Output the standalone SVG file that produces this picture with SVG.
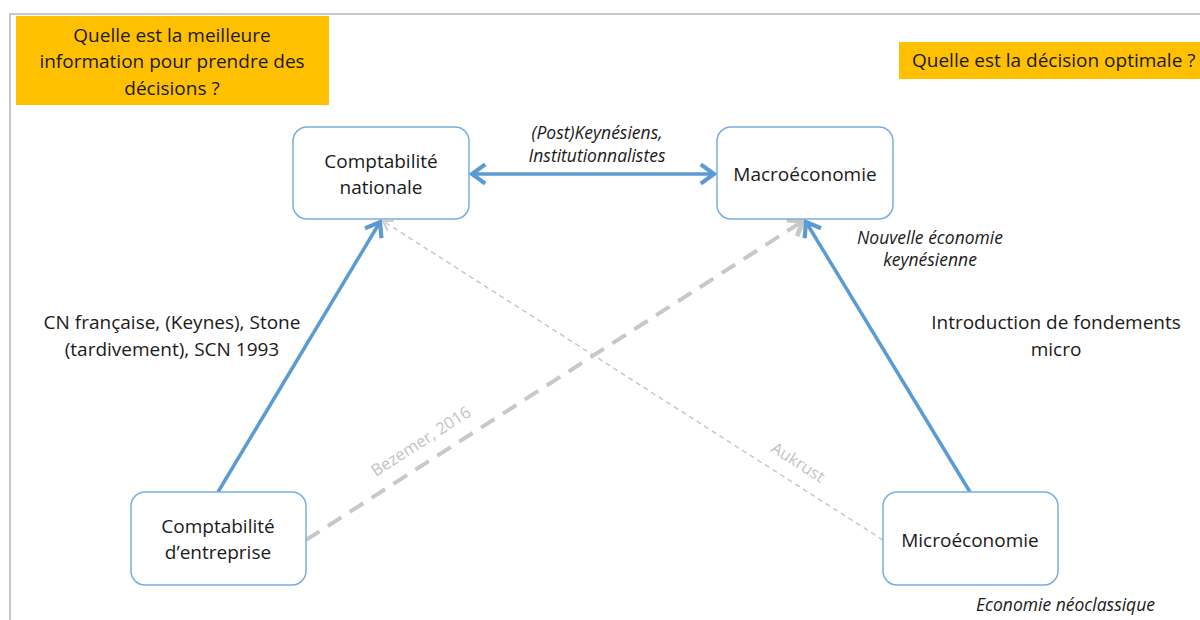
<svg xmlns="http://www.w3.org/2000/svg" width="1200" height="620" viewBox="0 0 1200 620">
<defs>
<style>
.t{font-family:"Open Sans","Liberation Sans",sans-serif;fill:#1a1a1a;font-size:19px}
.i{font-style:italic;font-size:17.5px}
.c{text-anchor:middle}
.node{fill:#fff;stroke:#7aaee0;stroke-width:1.5}
.q{fill:#ffc000}
.blue{stroke:#5b9bd5;stroke-width:3.5;fill:none}
.gthick{stroke:#c8c8c8;stroke-width:4;stroke-dasharray:16 10;fill:none}
.gthin{stroke:#c8c8c8;stroke-width:1.5;stroke-dasharray:5 4;fill:none}
.g{font-family:"Open Sans","Liberation Sans",sans-serif;fill:#c3c3c3;font-size:16.5px}
</style>
<marker id="ab" markerUnits="userSpaceOnUse" markerWidth="24" markerHeight="24" viewBox="-14 -10 16 20" refX="0" refY="0" orient="auto-start-reverse">
<path d="M-11,-8 L0,0 L-11,8" fill="none" stroke="#5b9bd5" stroke-width="3.5" stroke-linejoin="miter"/>
</marker>
<marker id="ag" markerUnits="userSpaceOnUse" markerWidth="24" markerHeight="24" viewBox="-14 -10 16 20" refX="0" refY="0" orient="auto">
<path d="M-11,-8 L0,0 L-11,8" fill="none" stroke="#c8c8c8" stroke-width="4"/>
</marker>
<marker id="agt" markerUnits="userSpaceOnUse" markerWidth="16" markerHeight="16" viewBox="-10 -7 12 14" refX="0" refY="0" orient="auto">
<path d="M-8,-5 L0,0 L-8,5" fill="none" stroke="#c8c8c8" stroke-width="1.5"/>
</marker>
</defs>
<rect width="1200" height="620" fill="#fff"/>
<path d="M10,620 V14 H1200" fill="none" stroke="#c8c8c8" stroke-width="2"/>

<g id="q1">
<rect class="q" x="16" y="16" width="313" height="89"/>
<text class="t c" x="172" y="42">Quelle est la meilleure</text>
<text class="t c" x="172" y="68">information pour prendre des</text>
<text class="t c" x="172" y="95">décisions ?</text>
</g>
<g id="q2">
<rect class="q" x="899" y="42" width="301" height="37"/>
<text class="t" x="912" y="67">Quelle est la décision optimale ?</text>
</g>

<g id="connectors">
<line class="gthin" x1="883" y1="540" x2="383" y2="221" marker-end="url(#agt)"/>
<line class="gthick" x1="306" y1="540" x2="803" y2="221" marker-end="url(#ag)"/>
<line class="blue" x1="472" y1="174" x2="714" y2="174" marker-start="url(#ab)" marker-end="url(#ab)"/>
<line class="blue" x1="218" y1="492" x2="380" y2="222" marker-end="url(#ab)"/>
<line class="blue" x1="970" y1="492" x2="806" y2="222" marker-end="url(#ab)"/>
<text class="g" transform="translate(424,446) rotate(-32.7)" text-anchor="middle">Bezemer, 2016</text>
<text class="g" transform="translate(795,467) rotate(32.6)" text-anchor="middle">Aukrust</text>
</g>

<g id="n-cn">
<rect class="node" x="293" y="127" width="176" height="92" rx="14"/>
<text class="t c" x="381" y="168">Comptabilité</text>
<text class="t c" x="381" y="194">nationale</text>
</g>
<g id="n-macro">
<rect class="node" x="717" y="127" width="176" height="92" rx="14"/>
<text class="t c" x="805" y="181">Macroéconomie</text>
</g>
<g id="n-ce">
<rect class="node" x="131" y="492" width="175" height="93" rx="14"/>
<text class="t c" x="218" y="533">Comptabilité</text>
<text class="t c" x="218" y="559">d’entreprise</text>
</g>
<g id="n-micro">
<rect class="node" x="883" y="492" width="175" height="93" rx="14"/>
<text class="t c" x="970" y="547">Microéconomie</text>
</g>

<g id="labels">
<text class="t i c" x="597" y="139">(Post)Keynésiens,</text>
<text class="t i c" x="597" y="162">Institutionnalistes</text>
<text class="t i c" x="930" y="244">Nouvelle économie</text>
<text class="t i c" x="930" y="266">keynésienne</text>
<text class="t c" x="1056" y="329">Introduction de fondements</text>
<text class="t c" x="1056" y="356">micro</text>
<text class="t c" x="172" y="329">CN française, (Keynes), Stone</text>
<text class="t c" x="172" y="356">(tardivement), SCN 1993</text>
<text class="t i" x="976" y="611">Economie néoclassique</text>
</g>
</svg>
